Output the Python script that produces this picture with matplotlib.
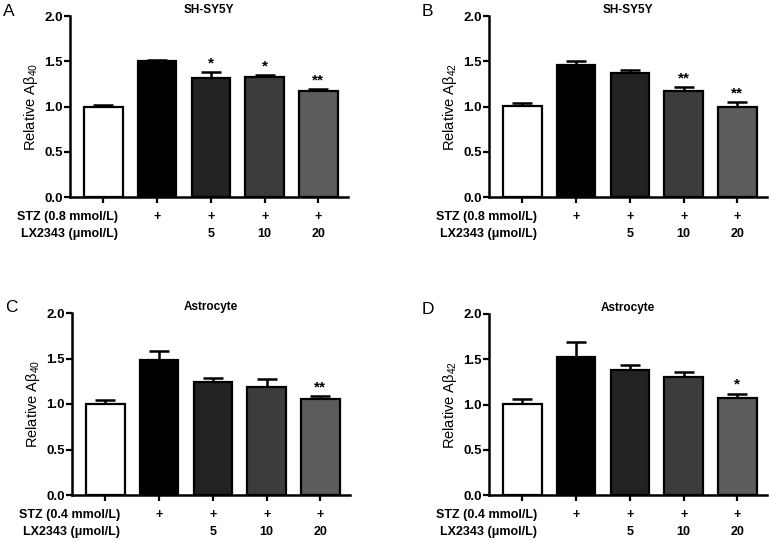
import numpy as np
import matplotlib
matplotlib.use("Agg")
import matplotlib.pyplot as plt
import matplotlib.transforms as mtransforms

plt.rcParams['font.family'] = ['Liberation Sans', 'DejaVu Sans']
plt.rcParams['mathtext.fontset'] = 'custom'
plt.rcParams['mathtext.rm'] = 'Liberation Sans'
plt.rcParams['mathtext.it'] = 'Liberation Sans:italic'
plt.rcParams['mathtext.bf'] = 'Liberation Sans:bold'

# data
a40_sh = [1.00, 1.50, 1.32, 1.33, 1.17]
a40_sh_err = [0.02, 0.015, 0.06, 0.02, 0.025]
a40_sh_sig = ['', '', '*', '*', '**']

a42_sh = [1.01, 1.46, 1.37, 1.17, 1.00]
a42_sh_err = [0.03, 0.04, 0.03, 0.04, 0.045]
a42_sh_sig = ['', '', '', '**', '**']

a40_as = [1.00, 1.48, 1.24, 1.19, 1.05]
a40_as_err = [0.04, 0.10, 0.05, 0.08, 0.04]
a40_as_sig = ['', '', '', '', '**']

a42_as = [1.005, 1.52, 1.38, 1.30, 1.07]
a42_as_err = [0.055, 0.17, 0.06, 0.06, 0.05]
a42_as_sig = ['', '', '', '', '*']

stz_row = ['', '+', '+', '+', '+']
lx_row = ['', '', '5', '10', '20']
bar_colors = ['white', 'black', '#222222', '#3c3c3c', '#5c5c5c']

panels = [
    ('A', 'SH-SY5Y', '40', '0.8', a40_sh, a40_sh_err, a40_sh_sig, [70, 16, 348, 197]),
    ('B', 'SH-SY5Y', '42', '0.8', a42_sh, a42_sh_err, a42_sh_sig, [489, 16, 767, 197]),
    ('C', 'Astrocyte', '40', '0.4', a40_as, a40_as_err, a40_as_sig, [72, 313, 350, 495]),
    ('D', 'Astrocyte', '42', '0.4', a42_as, a42_as_err, a42_as_sig, [489, 314, 767, 495]),
]

W, H = 769, 543
fig = plt.figure(figsize=(W / 100, H / 100), dpi=100)

for letter, title, sub, dose, vals, errs, sig, box in panels:
    x0, y0, x1, y1 = box
    ax = fig.add_axes([x0 / W, 1 - y1 / H, (x1 - x0) / W, (y1 - y0) / H])
    x = np.arange(len(vals))
    ax.bar(x, vals, width=0.72, color=bar_colors, edgecolor='black',
           linewidth=1.6, zorder=2)
    ax.errorbar(x, vals, yerr=[np.zeros(len(errs)), errs], fmt='none',
                ecolor='black', elinewidth=1.8, capsize=7, capthick=1.8, zorder=1)
    for xi, v, e, s in zip(x, vals, errs, sig):
        if s:
            ax.text(xi, v + e + 0.02, s, ha='center', va='bottom',
                    fontsize=11, fontweight='bold')

    ax.set_xlim(-0.62, 4.55)
    ax.set_ylim(0, 2.0)
    ax.set_yticks([0, 0.5, 1.0, 1.5, 2.0])
    ax.set_yticklabels(['%.1f' % t for t in [0, 0.5, 1.0, 1.5, 2.0]],
                       fontsize=9.5, fontweight='bold')
    ax.set_xticks(x)
    ax.set_xticklabels([])
    ax.tick_params(axis='both', direction='out', length=4, width=1.6, pad=1)
    for side in ['top', 'right']:
        ax.spines[side].set_visible(False)
    for side in ['left', 'bottom']:
        ax.spines[side].set_linewidth(1.8)
    ax.set_ylabel('Relative A\u03b2$_{' + sub + '}$', fontsize=10.5, labelpad=3)
    ax.set_title(title, fontsize=8.5, fontweight='bold', pad=0)

    trans = mtransforms.blended_transform_factory(ax.transData, ax.transAxes)
    ax.text(0.27, -0.11, 'STZ (%s mmol/L)' % dose, transform=trans, ha='right',
            va='center', fontsize=9, fontweight='bold')
    ax.text(0.27, -0.205, 'LX2343 (\u03bcmol/L)', transform=trans, ha='right',
            va='center', fontsize=9, fontweight='bold')
    for xi, s1, s2 in zip(x, stz_row, lx_row):
        ax.text(xi, -0.11, s1, transform=trans, ha='center', va='center',
                fontsize=9, fontweight='bold')
        ax.text(xi, -0.205, s2, transform=trans, ha='center', va='center',
                fontsize=9, fontweight='bold')

    fig.text((x0 - 67) / W, 1 - (y0 - 5) / H, letter, fontsize=12.5,
             ha='left', va='center')

fig.savefig('out.png', dpi=100)
